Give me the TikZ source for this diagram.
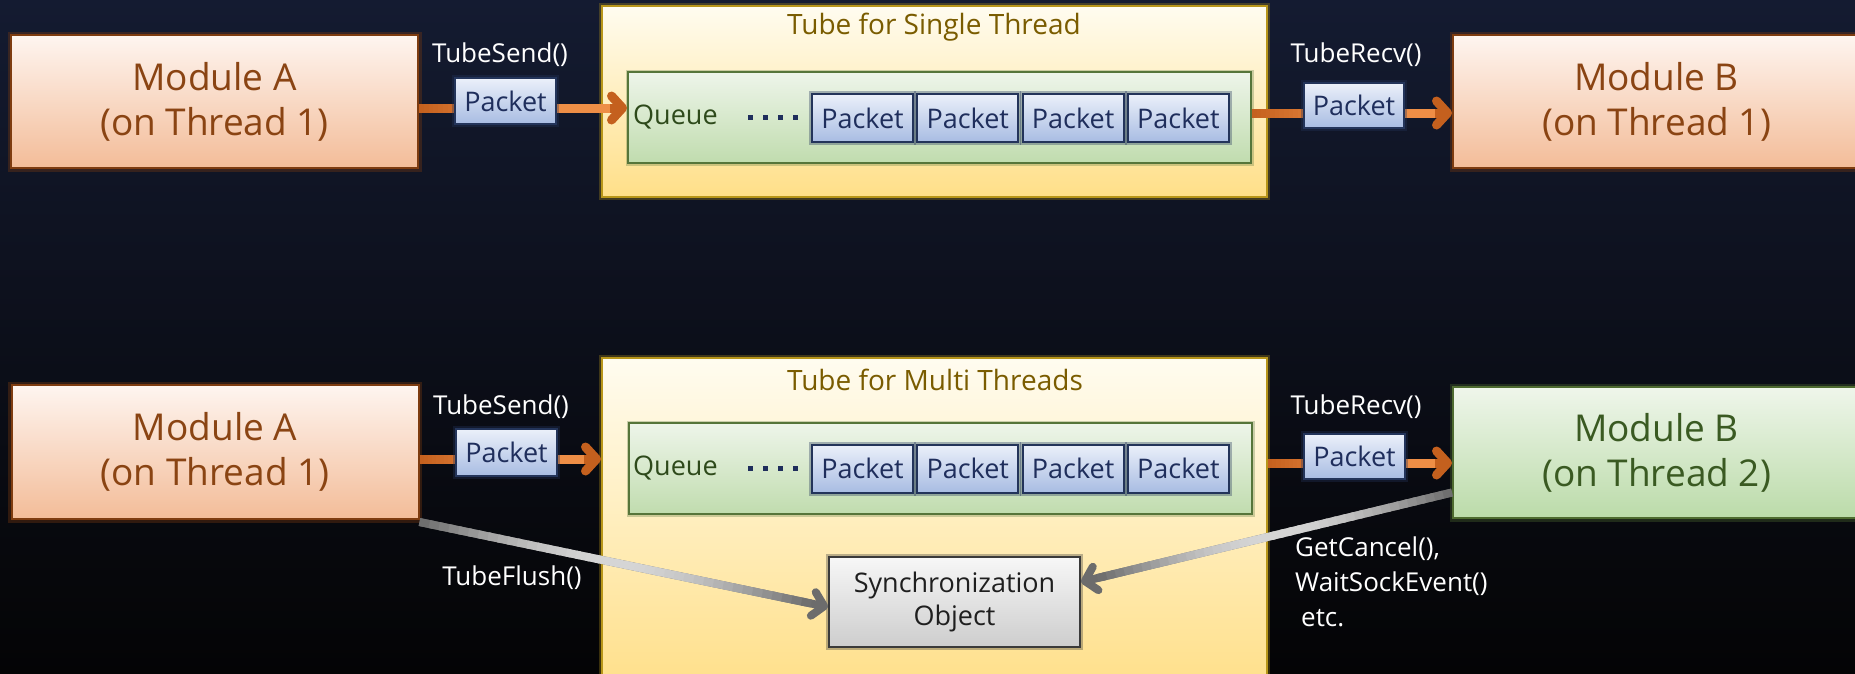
\documentclass[tikz,border=0pt]{standalone}
\usepackage{fontspec}
\setmainfont{Open Sans}
\usetikzlibrary{arrows.meta,calc}

% palette
\definecolor{bgtop}{HTML}{141B31}
\definecolor{bgmid}{HTML}{0C0F1A}
\definecolor{bgbot}{HTML}{040405}
\definecolor{orgTop}{HTML}{FEF5F0}
\definecolor{orgBot}{HTML}{F3BC98}
\definecolor{orgLine}{HTML}{7E3C10}
\definecolor{orgText}{HTML}{8A4413}
\definecolor{grnTop}{HTML}{EFF6EB}
\definecolor{grnBot}{HTML}{BBDBA9}
\definecolor{grnLine}{HTML}{4E6B30}
\definecolor{grnText}{HTML}{3A5A22}
\definecolor{tubeTop}{HTML}{FFFCF0}
\definecolor{tubeBot}{HTML}{FFDF88}
\definecolor{tubeLine}{HTML}{B8961A}
\definecolor{tubeText}{HTML}{7A5C00}
\definecolor{queTop}{HTML}{EEF5EA}
\definecolor{queBot}{HTML}{C0DCAE}
\definecolor{queLine}{HTML}{56753A}
\definecolor{queText}{HTML}{2E4A1B}
\definecolor{pkTop}{HTML}{EBF0FA}
\definecolor{pkBot}{HTML}{A8BCE2}
\definecolor{pkLine}{HTML}{23345A}
\definecolor{pkText}{HTML}{1F2E5C}
\definecolor{syTop}{HTML}{F7F7F7}
\definecolor{syBot}{HTML}{CDCDCD}
\definecolor{syLine}{HTML}{3A3A3A}
\definecolor{arrDark}{HTML}{C4601E}
\definecolor{arrLight}{HTML}{EE8E46}
\definecolor{gDark}{HTML}{6C6C6C}
\definecolor{gLight}{HTML}{D6D6D6}

\tikzset{
  module/.style={rectangle, minimum width=407pt, minimum height=133pt, inner sep=0pt,
    align=center, font=\fontsize{37}{45}\selectfont, line width=2pt},
  modorange/.style={module, top color=orgTop, bottom color=orgBot, draw=orgLine, text=orgText,
    preaction={draw=orgLine, line width=7pt, opacity=0.35}},
  modgreen/.style={module, top color=grnTop, bottom color=grnBot, draw=grnLine, text=grnText,
    preaction={draw=grnLine, line width=7pt, opacity=0.35}},
  tubebox/.style={rectangle, minimum width=665pt, inner sep=0pt, top color=tubeTop,
    bottom color=tubeBot, draw=tubeLine, line width=2pt,
    preaction={draw=tubeLine, line width=6pt, opacity=0.3}},
  tubetitle/.style={inner sep=0pt, text=tubeText, font=\fontsize{28}{32}\selectfont},
  queuebox/.style={rectangle, minimum width=623pt, minimum height=91pt, inner sep=0pt,
    top color=queTop, bottom color=queBot, draw=queLine, line width=2pt,
    preaction={draw=queLine, line width=5pt, opacity=0.3}},
  qtext/.style={inner sep=0pt, text=queText, font=\fontsize{27}{30}\selectfont},
  packet/.style={rectangle, minimum width=101pt, minimum height=48pt, inner sep=0pt,
    top color=pkTop, bottom color=pkBot, draw=pkLine, line width=2pt, text=pkText,
    font=\fontsize{27}{30}\selectfont,
    preaction={draw=pkLine, line width=6pt, opacity=0.35}},
  syncbox/.style={rectangle, minimum width=251pt, minimum height=90pt, inner sep=0pt,
    align=center, top color=syTop, bottom color=syBot, draw=syLine, line width=2pt,
    text=black!88, font=\fontsize{27}{33}\selectfont,
    preaction={draw=syLine, line width=6pt, opacity=0.35}},
  lbl/.style={inner sep=0pt, text=white, font=\fontsize{26}{35}\selectfont},
  barb/.style={-{Straight Barb[length=11pt,width=24pt,round]}},
}

% shaded connector: base stroke with tip, then a colour ramp along the shaft
% #1 from, #2 to, #3 dark colour, #4 light colour, #5 width, #6 ramp of \t (0..1)
\newcommand\rampedlink[6]{%
  \coordinate (lnS) at (#1);
  \coordinate (lnE) at (#2);
  \draw[line width=#5, color=#3, barb] (lnS) -- (lnE);
  \coordinate (lnM) at ($(lnE)!17pt!(lnS)$);
  \foreach \k in {0,...,39}{%
    \pgfmathsetmacro\ta{\k/40}%
    \pgfmathsetmacro\tb{min(1,(\k+1.4)/40)}%
    \pgfmathsetmacro\t{(\k+0.5)/40}%
    \pgfmathtruncatemacro\pp{#6}%
    \draw[line width=#5, color=#4!\pp!#3] ($(lnS)!\ta!(lnM)$) -- ($(lnS)!\tb!(lnM)$);
  }%
}

\begin{document}
\begin{tikzpicture}[x=1pt, y=-1pt]
\useasboundingbox (0,0) rectangle (1855,673);
\clip (0,0) rectangle (1855,673);

% backdrop
\shade[top color=bgtop, bottom color=bgmid] (0,0) rectangle (1855,341);
\shade[top color=bgmid, bottom color=bgbot] (0,340) rectangle (1855,673);

% ---------- single-thread tube ----------
\node[modorange] (modA1) at (214.5,101.5) {Module A\\(on Thread 1)};
\node[modorange] (modB1) at (1656.5,101.5) {Module B\\(on Thread 1)};
\node[tubebox, minimum height=191pt] (tube1) at (934.5,101.5) {};
\node[tubetitle] (tt1) at (934,27) {Tube for Single Thread};
\node[queuebox] (q1) at (939.5,117.5) {};
\node[qtext, anchor=west] (ql1) at (633,117) {Queue};
\foreach \x in {750,765,780,795}
  \fill[pkText] (\x-2.5,114.5) rectangle ++(5,5);
\foreach \x/\n in {862.5/1,967.8/2,1073.1/3,1178.4/4}
  \node[packet] (pq1\n) at (\x,118) {Packet};

\coordinate (rowA1) at (0,108);
\coordinate (rowB1) at (0,113);
\rampedlink{modA1.east |- rowA1}{q1.west |- rowA1}{arrDark}{arrLight}{9pt}{100*min(1,1.8*\t)}
\rampedlink{q1.east |- rowB1}{modB1.west |- rowB1}{arrDark}{arrLight}{9pt}{100*min(1,1.8*\t)}

\node[packet, minimum height=46pt] (pkA1) at (505.5,101) {Packet};
\node[packet, minimum height=45pt, minimum width=100pt] (pkB1) at (1354,105.5) {Packet};
\node[lbl] (ls1) at (500,55) {TubeSend()};
\node[lbl] (lr1) at (1356,55) {TubeRecv()};

% ---------- multi-thread tube ----------
\node[modorange, minimum height=134pt] (modA2) at (215,452) {Module A\\(on Thread 1)};
\node[modgreen, minimum height=131pt] (modB2) at (1656.5,452.5) {Module B\\(on Thread 2)};
\node[tubebox, minimum height=334pt] (tube2) at (934.5,525) {};
\node[tubetitle] (tt2) at (935,380) {Tube for Multi Threads};
\node[queuebox] (q2) at (940.5,468.5) {};
\node[qtext, anchor=west] (ql2) at (633,468) {Queue};
\foreach \x in {750,765,780,795}
  \fill[pkText] (\x-2.5,465.5) rectangle ++(5,5);
\foreach \x/\n in {862.5/1,967.8/2,1073.1/3,1178.4/4}
  \node[packet] (pq2\n) at (\x,468.5) {Packet};
\node[syncbox] (sync) at (954.5,602) {Synchronization\\Object};

\coordinate (rowA2) at (0,459);
\coordinate (rowB2) at (0,463);
\rampedlink{modA2.east |- rowA2}{tube2.west |- rowA2}{arrDark}{arrLight}{9pt}{100*min(1,1.8*\t)}
\rampedlink{tube2.east |- rowB2}{modB2.west |- rowB2}{arrDark}{arrLight}{9pt}{100*min(1,1.8*\t)}

\coordinate (flushS) at ($(modA2.south east)+(0,2)$);
\coordinate (flushE) at ($(sync.west)+(0,5)$);
\coordinate (waitS) at ($(modB2.west)+(0,40)$);
\coordinate (waitE) at ($(sync.east)+(0,-20)$);
\rampedlink{flushS}{flushE}{gDark}{gLight}{8pt}{100*sin(180*\t)}
\rampedlink{waitS}{waitE}{gDark}{gLight}{8pt}{100*sin(180*\t)}

\node[packet, minimum height=47pt] (pkA2) at (506.5,452.5) {Packet};
\node[packet, minimum height=45pt] (pkB2) at (1354.5,456.5) {Packet};
\node[lbl] (ls2) at (501,407) {TubeSend()};
\node[lbl] (lr2) at (1356,407) {TubeRecv()};
\node[lbl] (lf2) at (512,578) {TubeFlush()};
\node[lbl, anchor=north west, align=left] (lw2) at (1295,537)
  {GetCancel(),\\WaitSockEvent()\\\hspace*{6pt}etc.};
\end{tikzpicture}
\end{document}
